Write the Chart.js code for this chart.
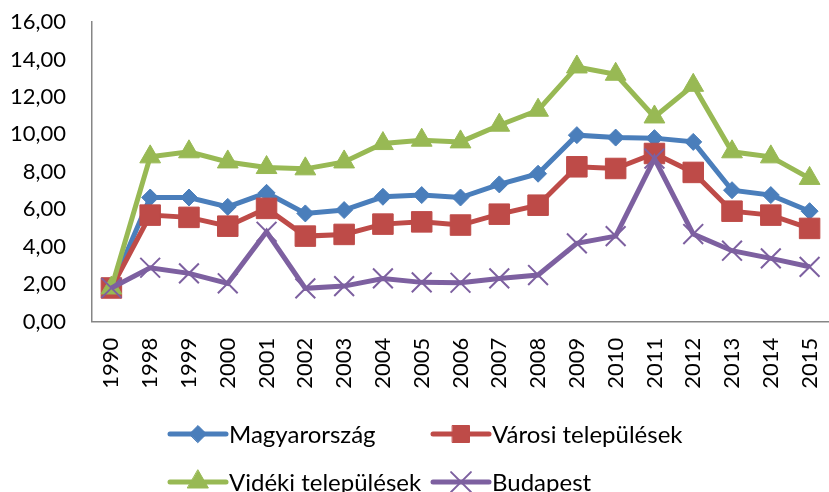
<!DOCTYPE html>
<html>
<head>
<meta charset="utf-8">
<script src="https://cdn.jsdelivr.net/npm/chart.js@4/dist/chart.umd.min.js"></script>
<style>
html,body{margin:0;padding:0;background:#fff;}
#wrap{width:829px;height:492px;position:relative;}
</style>
</head>
<body>
<div id="wrap"><canvas id="c"></canvas></div>
<script>
const years = ['1990','1998','1999','2000','2001','2002','2003','2004','2005','2006','2007','2008','2009','2010','2011','2012','2013','2014','2015'];
const magyarorszag = [1.8, 6.63, 6.63, 6.13, 6.88, 5.78, 5.96, 6.67, 6.76, 6.63, 7.33, 7.9, 9.96, 9.83, 9.8, 9.6, 7.02, 6.76, 5.9];
const varosi = [1.8, 5.69, 5.57, 5.1, 6.05, 4.57, 4.66, 5.21, 5.33, 5.16, 5.74, 6.22, 8.27, 8.18, 8.98, 7.97, 5.9, 5.69, 4.98];
const videki = [1.8, 8.8, 9.07, 8.53, 8.23, 8.16, 8.53, 9.51, 9.69, 9.6, 10.49, 11.29, 13.6, 13.21, 10.93, 12.62, 9.07, 8.8, 7.65];
const budapest = [1.8, 2.88, 2.58, 2.05, 4.8, 1.78, 1.9, 2.31, 2.1, 2.08, 2.31, 2.49, 4.18, 4.57, 8.71, 4.68, 3.79, 3.38, 2.93];
const seriesNames = ['Magyarország', 'Városi települések', 'Vidéki települések', 'Budapest'];
const yTicks = [0, 2, 4, 6, 8, 10, 12, 14, 16];

const FONT = 'Lato, "Open Sans", sans-serif';

function fmt(v){ return v.toFixed(2).replace('.', ','); }

const styles = [
  {color:'#4A7EBB', pointStyle:'rectRot', radius:8.5, pbw:1, order:4},
  {color:'#BE4B48', pointStyle:'rect', radius:14.5, pbw:1, order:3},
  {color:'#98B954', pointStyle:'triangle', radius:12, pbw:1, order:2},
  {color:'#7D60A0', pointStyle:'crossRot', radius:14, pbw:2, order:1}
];
const values = [magyarorszag, varosi, videki, budapest];

const datasets = values.map((d, i) => ({
  label: seriesNames[i],
  data: d,
  borderColor: styles[i].color,
  backgroundColor: styles[i].color,
  borderWidth: 5,
  pointStyle: styles[i].pointStyle,
  pointRadius: styles[i].radius,
  pointHoverRadius: styles[i].radius,
  pointBorderWidth: styles[i].pbw,
  pointBackgroundColor: styles[i].color,
  pointBorderColor: styles[i].color,
  tension: 0,
  clip: false,
  order: styles[i].order
}));

const legendPlugin = {
  id: 'gridLegend',
  afterDraw(chart) {
    const ctx = chart.ctx;
    const cols = [170, 433];
    const rows = [434, 482];
    const lineLen = 56;
    ctx.save();
    datasets.forEach((ds, i) => {
      const x = cols[i % 2];
      const y = rows[Math.floor(i / 2)];
      ctx.strokeStyle = ds.borderColor;
      ctx.lineWidth = 5;
      ctx.lineCap = 'round';
      ctx.beginPath();
      ctx.moveTo(x, y);
      ctx.lineTo(x + lineLen, y);
      ctx.stroke();
      ctx.fillStyle = ds.backgroundColor;
      ctx.lineWidth = ds.pointBorderWidth;
      let r = ds.pointRadius;
      if (ds.pointStyle === 'rect') r = 12;
      Chart.helpers.drawPoint(ctx, {pointStyle: ds.pointStyle, radius: r, borderWidth: ds.pointBorderWidth, rotation: 0}, x + lineLen / 2, y);
      ctx.fillStyle = '#000';
      ctx.font = '24px ' + FONT;
      ctx.textBaseline = 'middle';
      ctx.textAlign = 'left';
      ctx.fillText(ds.label, x + lineLen + 3, y + 1);
    });
    ctx.restore();
  }
};

new Chart(document.getElementById('c'), {
  type: 'line',
  data: { labels: years, datasets: datasets },
  options: {
    responsive: true,
    maintainAspectRatio: false,
    animation: false,
    events: [],
    layout: { autoPadding: false, padding: { top: 22, right: 0, left: 0, bottom: 0 } },
    plugins: { legend: { display: false }, tooltip: { enabled: false } },
    scales: {
      x: {
        offset: true,
        grid: { display: false, drawTicks: false },
        border: { display: true, color: '#868686', width: 1.5 },
        ticks: {
          color: '#000',
          font: { family: FONT, size: 22 },
          minRotation: 90,
          maxRotation: 90,
          padding: 16,
          autoSkip: false
        },
        afterFit(scale) { scale.height = 170.3; scale.paddingLeft = 0; scale.paddingRight = 0; }
      },
      y: {
        min: 0,
        max: 16,
        grid: { display: false, drawTicks: false },
        border: { display: true, color: '#868686', width: 1.5 },
        afterBuildTicks(scale) { scale.ticks = yTicks.map(v => ({ value: v })); },
        ticks: {
          color: '#000',
          font: { family: FONT, size: 22 },
          padding: 26,
          callback: (v) => fmt(v)
        },
        afterFit(scale) { scale.width = 92; scale.paddingTop = 0; scale.paddingBottom = 0; }
      }
    }
  },
  plugins: [legendPlugin]
});
</script>
</body>
</html>
